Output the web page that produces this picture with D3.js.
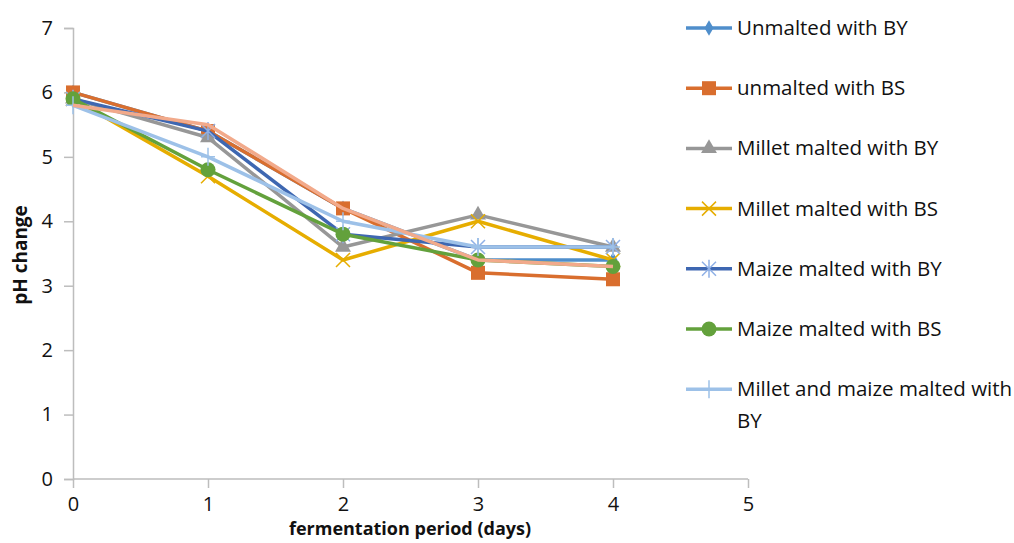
<!DOCTYPE html>
<html>
<head>
<meta charset="utf-8">
<script src="https://d3js.org/d3.v7.min.js"></script>
<style>
  body { margin: 0; background: #fff; }
  svg text { font-family: "Open Sans", "Liberation Sans", sans-serif; fill: #111; }
</style>
</head>
<body>
<div id="chart"></div>
<script>
// days of fermentation
var days = [0, 1, 2, 3, 4];
var seriesNames = ["Unmalted with BY", "unmalted with BS", "Millet malted with BY",
  "Millet malted with BS", "Maize malted with BY", "Maize malted with BS",
  "Millet and maize malted with BY", "Millet and maize malted with BS"];
var unmaltedBY = [6.0, 5.4, 4.2, 3.4, 3.4];
var unmaltedBS = [6.0, 5.4, 4.2, 3.2, 3.1];
var milletBY   = [5.9, 5.3, 3.6, 4.1, 3.6];
var milletBS   = [5.9, 4.7, 3.4, 4.0, 3.4];
var maizeBY    = [5.9, 5.4, 3.8, 3.6, 3.6];
var maizeBS    = [5.9, 4.8, 3.8, 3.4, 3.3];
var mixBY      = [5.8, 5.0, 4.0, 3.6, 3.6];
var mixBS      = [5.8, 5.5, 4.2, 3.4, 3.3];
var xTicks = [0, 1, 2, 3, 4, 5];
var yTicks = [0, 1, 2, 3, 4, 5, 6, 7];

var colors  = ["#4f8ecb", "#d96e2e", "#979797", "#e6ad00", "#3e67b1", "#63a13c", "#9dc1e8", "#f2aa8b"];
var markers = ["diamond", "square", "triangle", "x", "star", "circle", "plus", "none"];
var allValues = [unmaltedBY, unmaltedBS, milletBY, milletBS, maizeBY, maizeBS, mixBY, mixBS];

var series = seriesNames.map(function(n, i) {
  return { name: n, color: colors[i], marker: markers[i], values: allValues[i] };
});

var W = 1014, H = 543;
var svg = d3.select("#chart").append("svg").attr("width", W).attr("height", H);

var x = d3.scaleLinear().domain([0, 5]).range([73, 748]);
var y = d3.scaleLinear().domain([0, 7]).range([479, 28]);

// axes
var xAxis = svg.append("g").attr("transform", "translate(0," + y(0) + ")")
  .call(d3.axisBottom(x).tickValues(xTicks).tickSize(9).tickPadding(9).tickFormat(d3.format("d")));
var yAxis = svg.append("g").attr("transform", "translate(" + x(0) + ",0)")
  .call(d3.axisLeft(y).tickValues(yTicks).tickSize(9).tickPadding(11).tickFormat(d3.format("d")));
[xAxis, yAxis].forEach(function(a) {
  a.select(".domain").attr("stroke", "#bdbdbd").attr("stroke-width", 1.5);
  a.selectAll(".tick line").attr("stroke", "#bdbdbd").attr("stroke-width", 1.5);
  a.selectAll(".tick text").style("font-size", "20px").attr("fill", "#111");
});
xAxis.select(".domain").attr("d", "M" + x(0) + ",0H" + x(5));

// titles
svg.append("text").attr("x", 410).attr("y", 535).attr("text-anchor", "middle")
  .style("font-size", "18px").style("font-weight", "bold").text("fermentation period (days)");
svg.append("text").attr("transform", "translate(27,255) rotate(-90)").attr("text-anchor", "middle")
  .style("font-size", "19px").style("font-weight", "bold").text("pH change");

function drawMarker(g, type, color) {
  if (type === "diamond") {
    g.append("path").attr("d", d3.symbol(d3.symbolDiamond, 70)()).attr("fill", color);
  } else if (type === "square") {
    g.append("rect").attr("x", -7).attr("y", -7).attr("width", 14).attr("height", 14).attr("fill", color);
  } else if (type === "triangle") {
    g.append("path").attr("d", d3.symbol(d3.symbolTriangle, 110)()).attr("fill", color);
  } else if (type === "circle") {
    g.append("circle").attr("r", 7.5).attr("fill", color);
  } else if (type === "x") {
    g.append("path").attr("d", "M-7,-7L7,7M-7,7L7,-7").attr("stroke", color).attr("stroke-width", 1.5);
  } else if (type === "star") {
    g.append("path").attr("d", "M-7,-7L7,7M-7,7L7,-7M0,-9V9").attr("stroke", "#8fb0e6").attr("stroke-width", 1.5);
  } else if (type === "plus") {
    g.append("path").attr("d", "M-7,0H7M0,-9V9").attr("stroke", color).attr("stroke-width", 1.5);
  }
}

var line = d3.line().x(function(d, i) { return x(days[i]); }).y(function(d) { return y(d); });

series.forEach(function(s) {
  svg.append("path").datum(s.values).attr("d", line).attr("fill", "none")
    .attr("stroke", s.color).attr("stroke-width", 3.5).attr("stroke-linejoin", "round");
  s.values.forEach(function(v, i) {
    var g = svg.append("g").attr("transform", "translate(" + x(days[i]) + "," + y(v) + ")");
    drawMarker(g, s.marker, s.color);
  });
});

// legend (7 entries, last one wraps)
var legendY = d3.scaleLinear().domain([0, 1]).range([28, 88.2]);
series.slice(0, 7).forEach(function(s, i) {
  var ly = legendY(i);
  var g = svg.append("g").attr("transform", "translate(686," + ly + ")");
  g.append("line").attr("x1", 0).attr("x2", 46).attr("stroke", s.color).attr("stroke-width", 3.5);
  var m = g.append("g").attr("transform", "translate(23,0)");
  drawMarker(m, s.marker, s.color);
  var t = g.append("text").attr("x", 51).attr("y", 7).style("font-size", "20.5px");
  if (i === 6) {
    t.append("tspan").attr("x", 51).text("Millet and maize malted with");
    t.append("tspan").attr("x", 51).attr("dy", 32).text("BY");
  } else {
    t.text(s.name);
  }
});
</script>
</body>
</html>
